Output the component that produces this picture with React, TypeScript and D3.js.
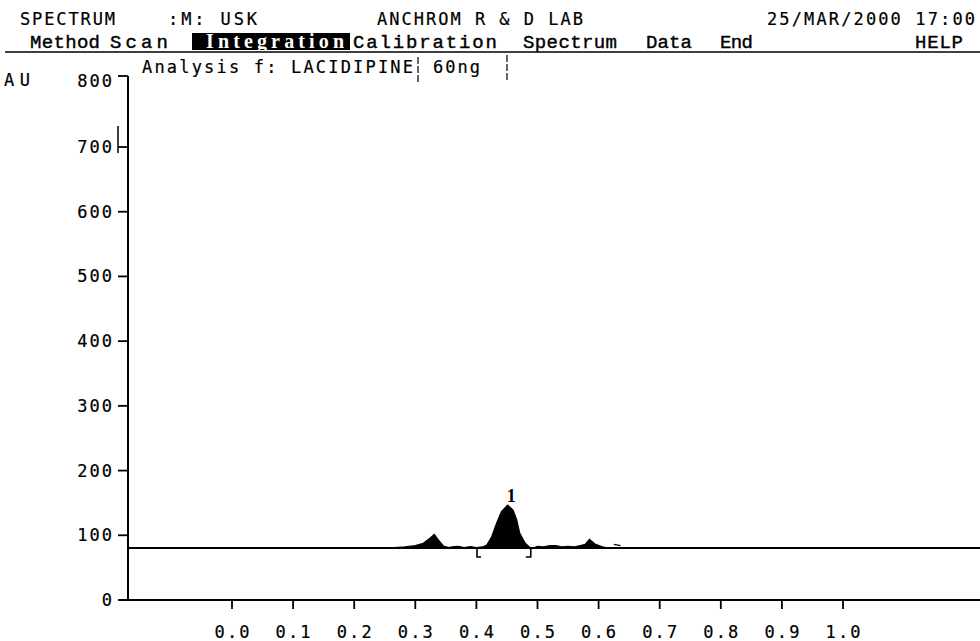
import * as d3 from "d3"

// header / menu texts
const headerItems = ["SPECTRUM", ":M: USK", "ANCHROM R & D LAB", "25/MAR/2000 17:00"]
const menuItems = ["Method", "Scan", "Integration", "Calibration", "Spectrum", "Data", "End", "HELP"]
const activeMenu = "Integration"
const analysisName = "Analysis f: LACIDIPINE"
const amountLabel = "60ng"

// axes
const yTicks = [0, 100, 200, 300, 400, 500, 600, 700, 800]
const xTicks = [0, 0.1, 0.2, 0.3, 0.4, 0.5, 0.6, 0.7, 0.8, 0.9, 1.0]
const yUnit = "AU"

// densitogram trace (Rf, AU)
const baselineAU = 80.4
const traceRf = [0.26, 0.283, 0.3, 0.313, 0.324, 0.331, 0.338, 0.346, 0.355, 0.36, 0.37, 0.38, 0.39, 0.4, 0.41, 0.417, 0.425, 0.433, 0.441, 0.451, 0.46, 0.466, 0.471, 0.48, 0.488, 0.495, 0.5, 0.51, 0.52, 0.53, 0.54, 0.55, 0.56, 0.57, 0.578, 0.585, 0.594, 0.605, 0.615]
const traceAU = [80.4, 82, 84, 87.6, 95.4, 101.5, 92.7, 83.5, 81, 82, 83, 81, 82.5, 81, 82, 85, 97.8, 118.5, 136.5, 146.8, 139, 123.6, 103, 87.6, 80.8, 81, 83, 82, 84, 84, 82, 83, 82, 84, 86, 93.8, 86.5, 82.4, 80.4]

// integrated peak
const peakLabel = "1"
const peakRf = 0.457
const peakAU = 147
const peakStartRf = 0.401
const peakEndRf = 0.489
const strayRf = [0.625, 0.636]
const strayAU = [86, 84]

const mono = "'DejaVu Sans Mono', monospace"
const courier = "'Liberation Mono', 'Courier New', monospace"

// header x positions / widths (screen layout)
const headerX = [20, 168, 377, 767]
const headerW = [95, 89, 206, 208]
const menuX = [30, 110, 206, 353, 523, 646, 720, 915]
const menuW = [70, 58, 138, 144, 94, 46, 33, 48]

const ink = { fill: "#000", stroke: "#000", strokeWidth: 0.2 }

export default function App() {
  const x = d3.scaleLinear().domain([0, 1]).range([232, 843])
  const y = d3.scaleLinear().domain([0, 700, 800]).range([600, 147, 76])

  const pts = traceRf.map((r, i) => [r, traceAU[i]] as [number, number])
  const area = d3
    .area<[number, number]>()
    .x((d) => x(d[0]))
    .y0(y(baselineAU))
    .y1((d) => y(d[1]))
  const line = d3
    .line<[number, number]>()
    .x((d) => x(d[0]))
    .y((d) => y(d[1]))

  const axisX = 128
  const right = 980
  const bottom = y(0)
  const base = y(baselineAU)

  return (
    <svg width={980} height={641} style={{ position: "absolute", left: 0, top: 0, background: "#fff" }}>
      <rect width={980} height={641} fill="#fff" />

      {/* header */}
      {headerItems.map((t, i) => (
        <text key={t} x={headerX[i]} y={25} fontFamily={mono} fontSize={17} textLength={headerW[i]} lengthAdjust="spacing" {...ink}>
          {t}
        </text>
      ))}

      {/* menu bar */}
      <rect x={192} y={33} width={158} height={17} fill="#000" />
      {menuItems.map((t, i) => (
        <text
          key={t}
          x={menuX[i]}
          y={48}
          fontFamily={t === activeMenu ? "'Liberation Serif', serif" : courier}
          fontWeight={t === activeMenu ? "bold" : "normal"}
          fontSize={t === activeMenu ? 20 : 19}
          fill={t === activeMenu ? "#fff" : "#000"}
          stroke={t === activeMenu ? "none" : "#000"}
          strokeWidth={0.4}
          textLength={menuW[i]}
          lengthAdjust="spacing"
        >
          {t}
        </text>
      ))}
      <line x1={5} x2={right} y1={52} y2={52} stroke="#000" strokeWidth={1.6} />

      {/* analysis line */}
      <text x={142} y={73} fontFamily={mono} fontSize={17} textLength={271} lengthAdjust="spacing" {...ink}>
        {analysisName}
      </text>
      <line x1={418} x2={418} y1={57} y2={83} stroke="#000" strokeWidth={1.2} strokeDasharray="7 2" />
      <text x={433} y={73} fontFamily={mono} fontSize={17} textLength={47} lengthAdjust="spacing" {...ink}>
        {amountLabel}
      </text>
      <line x1={507} x2={507} y1={55} y2={81} stroke="#000" strokeWidth={1.2} strokeDasharray="7 2" />

      {/* y axis */}
      <text x={4} y={86} fontFamily={mono} fontSize={17} textLength={26} lengthAdjust="spacing" {...ink}>
        {yUnit}
      </text>
      <line x1={axisX} x2={axisX} y1={y(800)} y2={bottom} stroke="#000" strokeWidth={2} />
      {yTicks.map((v) => (
        <g key={v}>
          <line x1={118} x2={axisX} y1={y(v)} y2={y(v)} stroke="#000" strokeWidth={1.8} />
          <text
            x={112}
            y={y(v) + (v === 800 ? 11 : 6)}
            textAnchor="end"
            fontFamily={mono}
            fontSize={17}
            textLength={String(v).length * 11.6}
            lengthAdjust="spacing"
            {...ink}
          >
            {v}
          </text>
        </g>
      ))}
      {/* cursor mark near 700 */}
      <line x1={118} x2={118} y1={126} y2={153} stroke="#000" strokeWidth={1.5} />

      {/* x axis */}
      <line x1={119} x2={right} y1={bottom} y2={bottom} stroke="#000" strokeWidth={2} />
      {xTicks.map((v) => (
        <g key={v}>
          <line x1={x(v)} x2={x(v)} y1={bottom} y2={bottom + 9} stroke="#000" strokeWidth={1.8} />
          <text x={x(v)} y={638} textAnchor="middle" fontFamily={mono} fontSize={17} textLength={35} lengthAdjust="spacing" {...ink}>
            {v.toFixed(1)}
          </text>
        </g>
      ))}

      {/* baseline */}
      <line x1={127} x2={right} y1={base} y2={base} stroke="#000" strokeWidth={2} />

      {/* trace */}
      <path d={area(pts) ?? ""} fill="#000" />
      <path d={line(pts) ?? ""} fill="none" stroke="#000" strokeWidth={1.2} />
      <path
        d={line(strayRf.map((r, i) => [r, strayAU[i]] as [number, number])) ?? ""}
        fill="none"
        stroke="#000"
        strokeWidth={1.2}
      />

      {/* peak integration marks */}
      <text x={x(peakRf)} y={y(peakAU) - 3} textAnchor="middle" fontFamily="'Liberation Serif', serif" fontWeight="bold" fontSize={18}>
        {peakLabel}
      </text>
      <path
        d={`M${x(peakStartRf)},${base + 1}V${base + 9}H${x(peakStartRf) + 4}`}
        fill="none"
        stroke="#000"
        strokeWidth={1.6}
      />
      <path
        d={`M${x(peakEndRf)},${base}V${base + 9}H${x(peakEndRf) - 5}`}
        fill="none"
        stroke="#000"
        strokeWidth={1.6}
      />
    </svg>
  )
}
